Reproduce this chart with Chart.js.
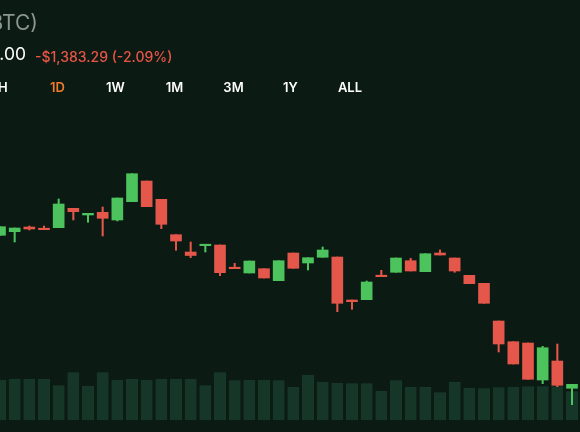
<!DOCTYPE html>
<html>
<head>
<meta charset="utf-8">
<script src="https://cdn.jsdelivr.net/npm/chart.js@4.4.1/dist/chart.umd.min.js"></script>
<style>
  html, body { margin: 0; padding: 0; background: #0b1a12; width: 580px; height: 432px; overflow: hidden; }
  body { position: relative; font-family: Inter, "Noto Sans", sans-serif; }
  canvas { position: absolute; left: 0; top: 0; }
  .t { position: absolute; white-space: nowrap; }
  #title { right: 542px; top: 12px; font-size: 21px; line-height: 21px; color: #8d9591; }
  #price { right: 554px; top: 45px; font-size: 17.5px; line-height: 17.5px; color: #ffffff; }
  #change { left: 35px; top: 49.6px; font-size: 14px; line-height: 14px; font-weight: 500; color: #ea5547; }
  .tf { position: absolute; top: 81px; width: 50px; margin-left: -25px; text-align: center; font-size: 13px; line-height: 13px; font-weight: 600; color: #ffffff; }
  .tf.active { color: #f07b2c; }
</style>
</head>
<body>
<canvas id="c" width="580" height="432"></canvas>
<div class="t" id="title">Bitcoin (BTC)</div>
<div class="t" id="price">$64,806.00</div>
<div class="t" id="change">-$1,383.29 (-2.09%)</div>
<div id="tfs"></div>
<script>
const timeframes = ["1H", "1D", "1W", "1M", "3M", "1Y", "ALL"];
const activeTimeframe = "1D";

const times = ["04:00","04:30","05:00","05:30","06:00","06:30","07:00","07:30","08:00","08:30",
               "09:00","09:30","10:00","10:30","11:00","11:30","12:00","12:30","13:00","13:30",
               "14:00","14:30","15:00","15:30","16:00","16:30","17:00","17:30","18:00","18:30",
               "19:00","19:30","20:00","20:30","21:00","21:30","22:00","22:30","23:00","23:30"];
const opens  = [65647,65683,65730,65708,65723,65917,65850,65877,65800,65983,
                66190,66007,65653,65480,65543,65550,65327,65270,65313,65193,
                65470,65370,65427,65430,65000,65003,65247,65277,65393,65283,
                65470,65420,65247,65167,64790,64583,64570,64200,64390,64117];
const closes = [65733,65720,65710,65703,65960,65883,65867,65817,66020,66263,
                65933,65757,65590,65445,65553,65273,65313,65390,65220,65393,
                65317,65423,65500,64967,64983,65180,65233,65420,65290,65463,
                65450,65290,65163,64967,64560,64360,64207,64523,64147,64157];
const highs  = [65733,65720,65740,65740,66010,65917,65867,65930,66020,66263,
                66190,66007,65653,65580,65553,65550,65367,65390,65313,65393,
                65470,65423,65530,65430,65000,65190,65297,65420,65417,65463,
                65500,65420,65247,65167,64790,64583,64570,64537,64560,64157];
const lows   = [65647,65580,65700,65703,65723,65800,65777,65640,65790,65983,
                65933,65713,65497,65423,65480,65243,65313,65270,65220,65193,
                65317,65300,65427,64883,64907,65003,65233,65277,65290,65283,
                65450,65277,65163,64967,64480,64360,64207,64163,64133,63953];
const volumes = [400,410,410,410,343,473,337,473,400,410,
                 400,410,410,410,343,473,393,400,400,393,
                 327,450,380,370,363,363,290,393,330,327,
                 273,377,317,313,323,330,333,333,333,283];

// timeframe buttons
const tfCenters = [0, 57.5, 115.5, 174.5, 233.5, 290.5, 350];
const tfs = document.getElementById('tfs');
timeframes.forEach((t, i) => {
  const d = document.createElement('div');
  d.className = 'tf' + (t === activeTimeframe ? ' active' : '');
  d.style.left = tfCenters[i] + 'px';
  d.textContent = t;
  tfs.appendChild(d);
});

const GREEN = '#4cc35c', RED = '#e5574b';
const dirColor = ctx => (closes[ctx.dataIndex] >= opens[ctx.dataIndex] ? GREEN : RED);

new Chart(document.getElementById('c'), {
  type: 'bar',
  data: {
    labels: times,
    datasets: [
      {
        label: 'body',
        data: opens.map((o, i) => [o, closes[i]]),
        backgroundColor: dirColor,
        borderWidth: 0,
        barThickness: 11,
        minBarLength: 1.5,
        grouped: false,
        yAxisID: 'y',
        order: 0,
        clip: false
      },
      {
        label: 'wick',
        data: lows.map((l, i) => [l, highs[i]]),
        backgroundColor: dirColor,
        borderWidth: 0,
        barThickness: 1.4,
        grouped: false,
        yAxisID: 'y',
        order: 1,
        clip: false
      },
      {
        label: 'volume',
        data: volumes,
        backgroundColor: '#163627',
        borderColor: '#1a3d2c',
        borderWidth: 0.6,
        borderSkipped: false,
        barThickness: 11.3,
        grouped: false,
        yAxisID: 'yv',
        order: 2,
        clip: false
      }
    ]
  },
  options: {
    responsive: false,
    animation: false,
    layout: { padding: { left: 0, right: 8, top: 110, bottom: 12 } },
    plugins: { legend: { display: false }, tooltip: { enabled: false } },
    scales: {
      x: { type: 'category', offset: false, display: false, grid: { display: false } },
      y: { type: 'linear', min: 63800, max: 66900, display: false },
      yv: { type: 'linear', min: 0, max: 3100, display: false }
    }
  }
});
</script>
</body>
</html>
